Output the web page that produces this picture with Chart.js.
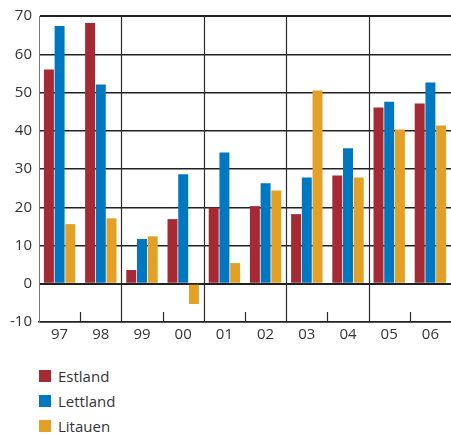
<!DOCTYPE html>
<html>
<head>
<meta charset="utf-8">
<script src="https://cdn.jsdelivr.net/npm/chart.js@4.4.1/dist/chart.umd.min.js"></script>
<style>
  html, body { margin: 0; padding: 0; background: #fff; }
  #wrap { position: relative; width: 451px; height: 434px; }
  #chart { position: absolute; left: 0; top: 0; }
  #legend { position: absolute; left: 39px; top: 363px; font-family: "Open Sans", sans-serif; font-size: 15px; color: #333; }
  .item { display: flex; align-items: center; height: 25px; }
  .swatch { width: 12px; height: 12px; margin-right: 7px; }
</style>
</head>
<body>
<div id="wrap">
  <canvas id="chart" width="451" height="345"></canvas>
  <div id="legend"></div>
</div>
<script>
// Years shown on the category axis
const years = ["97", "98", "99", "00", "01", "02", "03", "04", "05", "06"];

// Values per country
const estland  = [56.0, 68.2, 3.6, 16.9, 19.9, 20.3, 18.2, 28.3, 46.1, 47.1];
const lettland = [67.4, 52.1, 11.7, 28.6, 34.3, 26.3, 27.8, 35.4, 47.6, 52.6];
const litauen  = [15.6, 17.1, 12.4, -5.3, 5.4, 24.4, 50.5, 27.8, 40.3, 41.4];

const seriesNames = ["Estland", "Lettland", "Litauen"];
const seriesColors = ["#a52a34", "#0078c1", "#e3a027"];

// Y axis range and step
const yMin = -10, yMax = 70, yStep = 10;

const fontFamily = '"Open Sans", sans-serif';

// Vertical separators: full height between year pairs, short marks inside each pair
const separators = {
  id: 'separators',
  beforeDatasetsDraw(chart) {
    const x = chart.scales.x, area = chart.chartArea, ctx = chart.ctx;
    ctx.save();
    ctx.strokeStyle = '#2a2a2a';
    ctx.lineWidth = 1.2;
    for (let i = 0; i < years.length - 1; i++) {
      const px = Math.round((x.getPixelForValue(i) + x.getPixelForValue(i + 1)) / 2) + 0.5;
      ctx.beginPath();
      if (i % 2 === 1) {
        ctx.moveTo(px, area.top);
      } else {
        ctx.moveTo(px, area.bottom - 10);
      }
      ctx.lineTo(px, area.bottom);
      ctx.stroke();
    }
    ctx.restore();
  }
};

const datasets = [estland, lettland, litauen].map((d, i) => ({
  label: seriesNames[i],
  data: d,
  backgroundColor: seriesColors[i],
  borderWidth: 0,
  categoryPercentage: 0.78,
  barPercentage: 0.93
}));

const chart = new Chart(document.getElementById('chart'), {
  type: 'bar',
  data: { labels: years, datasets },
  options: {
    responsive: false,
    animation: false,
    layout: { padding: { top: 15, right: 0, left: 0, bottom: 0 } },
    plugins: { legend: { display: false }, tooltip: { enabled: false } },
    scales: {
      x: {
        grid: { display: false },
        border: { display: true, color: '#222', width: 1.5 },
        ticks: { color: '#333', font: { family: fontFamily, size: 15 }, padding: -4 },
        afterFit(scale) { scale.height = 23; }
      },
      y: {
        min: yMin, max: yMax,
        ticks: { stepSize: yStep, color: '#333', font: { family: fontFamily, size: 15 }, padding: 7 },
        grid: {
          drawTicks: false,
          color: '#222',
          lineWidth: ctx => (ctx.tick && (ctx.tick.value === 0 || ctx.tick.value === yMax)) ? 2 : 1.5
        },
        border: { display: true, color: '#777', width: 1 },
        afterFit(scale) { scale.width = 39; }
      }
    }
  },
  plugins: [separators]
});

// Legend below the chart
const legend = document.getElementById('legend');
seriesNames.forEach((name, i) => {
  const row = document.createElement('div');
  row.className = 'item';
  const sw = document.createElement('span');
  sw.className = 'swatch';
  sw.style.background = seriesColors[i];
  const tx = document.createElement('span');
  tx.textContent = name;
  row.appendChild(sw);
  row.appendChild(tx);
  legend.appendChild(row);
});
</script>
</body>
</html>
